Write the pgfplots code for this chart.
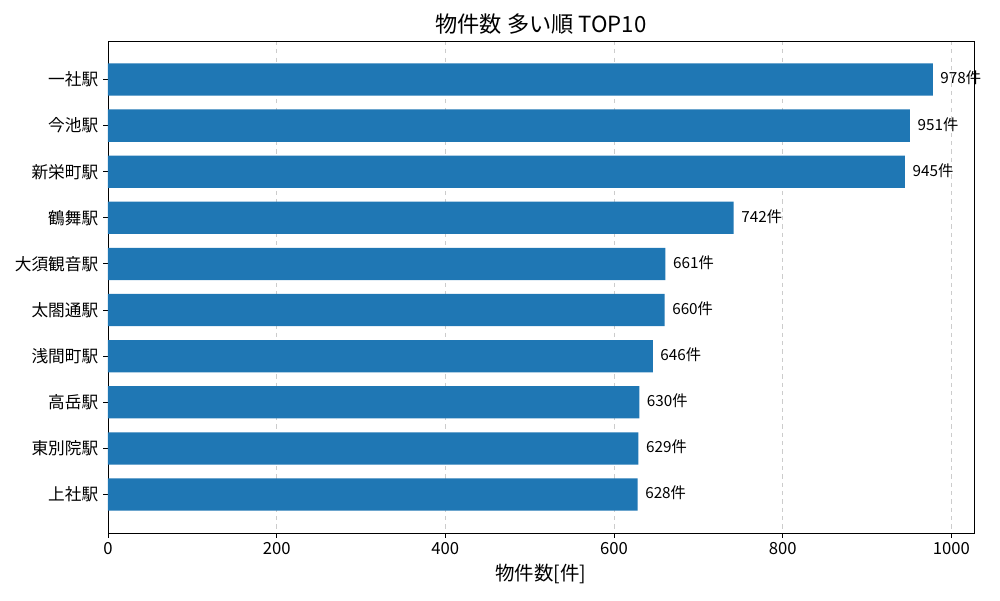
\documentclass[border=0pt]{standalone}
\usepackage{fontspec}
\setmainfont{Noto Sans CJK JP}
\usepackage{pgfplots}
\pgfplotsset{compat=1.18}
\definecolor{barblue}{HTML}{1F77B4}
\begin{document}
\begin{tikzpicture}
\path[use as bounding box] (-77.76pt,-48.24pt) rectangle (642.24pt,383.76pt);
\begin{axis}[
  at={(0,0)}, anchor=south west,
  scale only axis, width=623.52pt, height=354.24pt,
  xbar, bar width=0.7, bar shift=0pt,
  xmin=0, xmax=1026.9,
  ymin=-0.835, ymax=9.835, y dir=reverse,
  ytick={0,...,9},
  yticklabels={一社駅,今池駅,新栄町駅,鶴舞駅,大須観音駅,太閤通駅,浅間町駅,高岳駅,東別院駅,上社駅},
  xtick={0,200,...,1000},
  tick align=outside, tick pos=left,
  major tick length=3.5pt,
  xmajorgrids, grid style={dashed, gray!40, line width=0.6pt},
  axis line style={line width=0.7pt},
  tick style={black, line width=0.7pt},
  ticklabel style={font=\fontsize{12}{14}\selectfont},
  /pgf/number format/assume math mode=true,
  /pgf/number format/1000 sep={},
  xlabel={物件数[件]}, xlabel style={font=\fontsize{14}{16}\selectfont},
  title={物件数 多い順 TOP10}, title style={font=\fontsize{16}{19}\selectfont, yshift=-5pt},
  point meta=x,
  nodes near coords={\pgfmathprintnumber{\pgfplotspointmeta}件},
  nodes near coords style={font=\fontsize{11}{13}\selectfont, black, xshift=2pt, yshift=1pt},
]
\addplot[draw=none, fill=barblue] coordinates {
(978,0) (951,1) (945,2) (742,3) (661,4) (660,5) (646,6) (630,7) (629,8) (628,9)
};
\end{axis}
\end{tikzpicture}
\end{document}
